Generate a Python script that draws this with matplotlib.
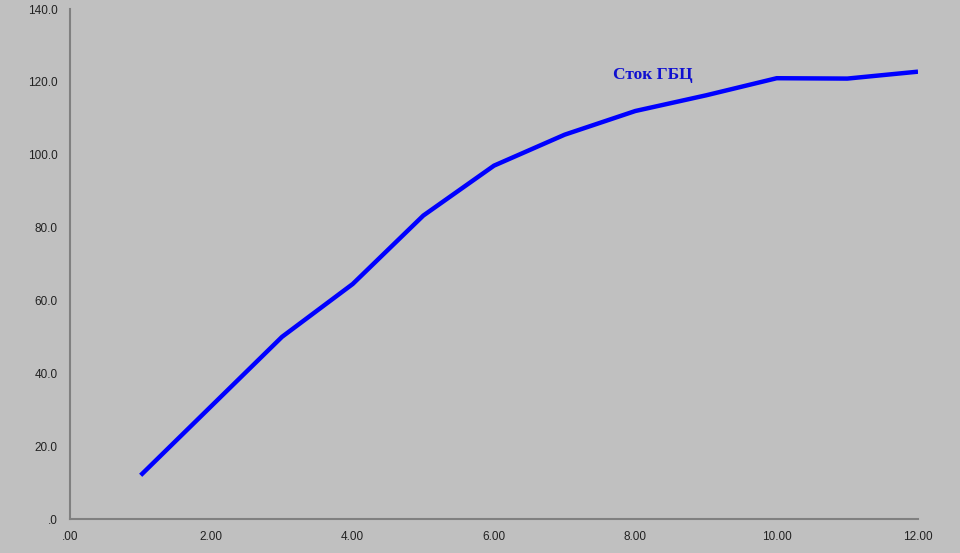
import matplotlib
matplotlib.use("Agg")
import matplotlib.pyplot as plt
from matplotlib.ticker import FuncFormatter

months = [1, 2, 3, 4, 5, 6, 7, 8, 9, 10, 11, 12]
flow = [12.0, 31.0, 50.0, 64.5, 83.3, 97.0, 105.5, 112.0, 116.3, 121.0, 120.9, 122.8]
series_label = "Сток ГБЦ"
x_ticks = [0, 2, 4, 6, 8, 10, 12]
y_ticks = [0, 20, 40, 60, 80, 100, 120, 140]

W, H = 960, 553
fig = plt.figure(figsize=(W / 100, H / 100), dpi=100, facecolor="#c0c0c0")
ax = fig.add_axes([70 / W, (H - 519) / H, (918 - 70) / W, (519 - 9) / H])
ax.set_facecolor("#c0c0c0")

ax.plot(months, flow, color="#0000ff", lw=3.2, solid_capstyle="butt", solid_joinstyle="round")

ax.set_xlim(0, 12)
ax.set_ylim(0, 140)
ax.set_xticks(x_ticks)
ax.set_yticks(y_ticks)

def fmt_x(v, pos):
    s = f"{v:.2f}"
    return s[1:] if s.startswith("0") else s

def fmt_y(v, pos):
    s = f"{v:.1f}"
    return s[1:] if s.startswith("0") else s

ax.xaxis.set_major_formatter(FuncFormatter(fmt_x))
ax.yaxis.set_major_formatter(FuncFormatter(fmt_y))
ax.tick_params(axis="both", length=0, labelsize=8.5, colors="#222222",
               labelfontfamily="Liberation Sans")
ax.tick_params(axis="x", pad=9)
ax.tick_params(axis="y", pad=9)

for s in ["top", "right"]:
    ax.spines[s].set_visible(False)
for s in ["left", "bottom"]:
    ax.spines[s].set_color("#808080")
    ax.spines[s].set_linewidth(1.5)

ax.text(7.68, 121.8, series_label, color="#1010d0", fontsize=12.5, fontweight="bold",
        family="Liberation Serif", ha="left", va="center")

fig.savefig("out.png", dpi=100, facecolor=fig.get_facecolor())
